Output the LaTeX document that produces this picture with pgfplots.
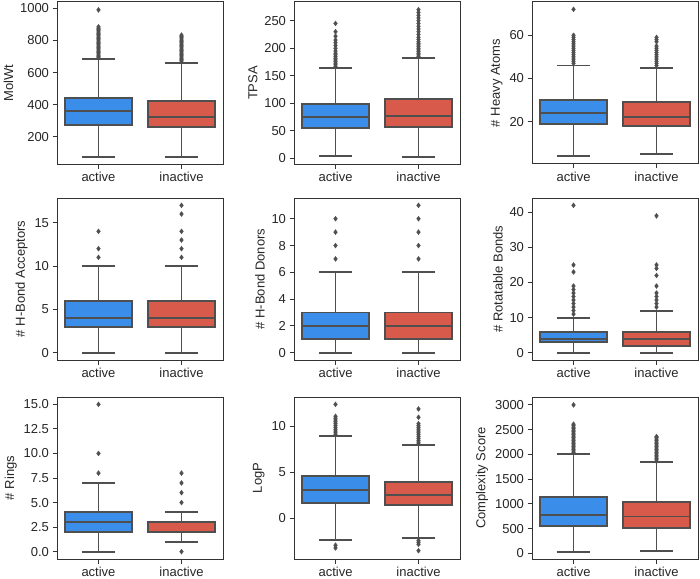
\documentclass[border=0pt]{standalone}
\usepackage{fontspec}
\setmainfont{Liberation Sans}
\usepackage{pgfplots}
\pgfplotsset{compat=1.18}
\usepgfplotslibrary{statistics}

\definecolor{cact}{HTML}{3A8EEA}
\definecolor{cina}{HTML}{D85A4B}
\definecolor{edge}{HTML}{4F4F4F}
\definecolor{frame}{HTML}{333333}

\pgfplotsset{
  panel/.style={
    width=166pt, height=162pt, scale only axis,
    xmin=-0.5, xmax=1.5, xtick={0,1}, xticklabels={active,inactive},
    tick align=outside, major tick length=4.5pt,
    xtick pos=bottom, ytick pos=left,
    axis line style={draw=frame, line width=1pt},
    tick style={draw=frame, line width=1pt},
    ticklabel style={font=\fontsize{13}{15}\selectfont, text=black!85},
    label style={font=\fontsize{13}{15}\selectfont, text=black!85},
    /pgf/number format/assume math mode=true,
    /pgf/number format/1000 sep={},
    boxplot/draw direction=y,
    boxplot/box extend=0.8,
    boxplot/whisker extend=0.4,
    boxplot/every whisker/.style={draw=edge, line width=1.9pt},
    boxplot/every median/.style={draw=edge, line width=1.9pt},
    boxplot/every box/.style={draw=edge, line width=1.9pt},
  },
  bxa/.style={draw=edge, line width=1.9pt, fill=cact,
    mark=diamond*, mark size=2.5pt, mark options={fill=edge, draw=edge, line width=0.3pt}},
  bxi/.style={draw=edge, line width=1.9pt, fill=cina,
    mark=diamond*, mark size=2.5pt, mark options={fill=edge, draw=edge, line width=0.3pt}},
}

\begin{document}
\begin{tikzpicture}
\path[use as bounding box] (0pt,0pt) rectangle (700pt,-578pt);

% row 1
\begin{axis}[panel, at={(57pt,-2pt)}, anchor=north west,
  ylabel={MolWt}, ymin=31, ymax=1039, ytick={200,400,600,800,1000}]
\addplot[bxa, boxplot prepared={draw position=0, lower whisker=76, lower quartile=274,
  median=359, upper quartile=439, upper whisker=687}]
  table[row sep=\\, y index=0] {692\\700\\708\\716\\724\\732\\740\\748\\756\\764\\772\\780\\788\\796\\804\\812\\820\\828\\836\\844\\852\\860\\868\\876\\884\\990\\};
\addplot[bxi, boxplot prepared={draw position=1, lower whisker=73, lower quartile=262,
  median=326, upper quartile=425, upper whisker=660}]
  table[row sep=\\, y index=0] {665\\673\\681\\689\\697\\705\\713\\721\\729\\737\\745\\753\\761\\769\\777\\785\\793\\801\\809\\817\\825\\833\\};
\end{axis}

\begin{axis}[panel, at={(294pt,-2pt)}, anchor=north west,
  ylabel={TPSA}, ymin=-10, ymax=284, ytick={0,50,100,150,200,250}]
\addplot[bxa, boxplot prepared={draw position=0, lower whisker=4, lower quartile=55,
  median=75, upper quartile=99, upper whisker=165}]
  table[row sep=\\, y index=0] {167\\170\\173\\176\\179\\182\\185\\188\\191\\195\\200\\205\\210\\215\\222\\230\\245\\};
\addplot[bxi, boxplot prepared={draw position=1, lower whisker=3, lower quartile=57,
  median=77, upper quartile=108, upper whisker=183}]
  table[row sep=\\, y index=0] {185\\188\\191\\194\\197\\200\\203\\206\\209\\212\\216\\220\\225\\230\\235\\240\\245\\250\\255\\260\\265\\270\\};
\end{axis}

\begin{axis}[panel, at={(532pt,-2pt)}, anchor=north west,
  ylabel={\# Heavy Atoms}, ymin=0.4, ymax=75.4, ytick={20,40,60}]
\addplot[bxa, boxplot prepared={draw position=0, lower whisker=4, lower quartile=19,
  median=24, upper quartile=30, upper whisker=46}]
  table[row sep=\\, y index=0] {47\\48\\49\\50\\51\\52\\53\\54\\55\\56\\57\\58\\59\\60\\72\\};
\addplot[bxi, boxplot prepared={draw position=1, lower whisker=5, lower quartile=18,
  median=22, upper quartile=29, upper whisker=45}]
  table[row sep=\\, y index=0] {46\\47\\48\\49\\50\\51\\52\\53\\54\\55\\57\\58\\59\\};
\end{axis}

% row 2
\begin{axis}[panel, at={(57pt,-198pt)}, anchor=north west,
  ylabel={\# H-Bond Acceptors}, ymin=-0.85, ymax=17.85, ytick={0,5,10,15}]
\addplot[bxa, boxplot prepared={draw position=0, lower whisker=0, lower quartile=3,
  median=4, upper quartile=6, upper whisker=10}]
  table[row sep=\\, y index=0] {11\\12\\14\\};
\addplot[bxi, boxplot prepared={draw position=1, lower whisker=0, lower quartile=3,
  median=4, upper quartile=6, upper whisker=10}]
  table[row sep=\\, y index=0] {11\\12\\13\\14\\16\\17\\};
\end{axis}

\begin{axis}[panel, at={(294pt,-198pt)}, anchor=north west,
  ylabel={\# H-Bond Donors}, ymin=-0.55, ymax=11.55, ytick={0,2,4,6,8,10}]
\addplot[bxa, boxplot prepared={draw position=0, lower whisker=0, lower quartile=1,
  median=2, upper quartile=3, upper whisker=6}]
  table[row sep=\\, y index=0] {7\\8\\9\\10\\};
\addplot[bxi, boxplot prepared={draw position=1, lower whisker=0, lower quartile=1,
  median=2, upper quartile=3, upper whisker=6}]
  table[row sep=\\, y index=0] {7\\8\\9\\10\\11\\};
\end{axis}

\begin{axis}[panel, at={(532pt,-198pt)}, anchor=north west,
  ylabel={\# Rotatable Bonds}, ymin=-2.1, ymax=44.1, ytick={0,10,20,30,40}]
\addplot[bxa, boxplot prepared={draw position=0, lower whisker=0, lower quartile=3,
  median=4, upper quartile=6, upper whisker=10}]
  table[row sep=\\, y index=0] {11\\12\\13\\14\\15\\16\\17\\18\\19\\23\\25\\42\\};
\addplot[bxi, boxplot prepared={draw position=1, lower whisker=0, lower quartile=2,
  median=4, upper quartile=6, upper whisker=12}]
  table[row sep=\\, y index=0] {13\\14\\15\\16\\17\\19\\22\\24\\25\\39\\};
\end{axis}

% row 3
\begin{axis}[panel, at={(57pt,-397pt)}, anchor=north west,
  ylabel={\# Rings}, ymin=-0.75, ymax=15.75, ytick={0,2.5,5,7.5,10,12.5,15},
  yticklabel style={/pgf/number format/.cd, fixed, fixed zerofill, precision=1}]
\addplot[bxa, boxplot prepared={draw position=0, lower whisker=0, lower quartile=2,
  median=3, upper quartile=4, upper whisker=7}]
  table[row sep=\\, y index=0] {8\\10\\15\\};
\addplot[bxi, boxplot prepared={draw position=1, lower whisker=1, lower quartile=2,
  median=2, upper quartile=3, upper whisker=4}]
  table[row sep=\\, y index=0] {0\\5\\6\\7\\8\\};
\end{axis}

\begin{axis}[panel, at={(294pt,-397pt)}, anchor=north west,
  ylabel={LogP}, ymin=-4.4, ymax=13.2, ytick={0,5,10}]
\addplot[bxa, boxplot prepared={draw position=0, lower whisker=-2.38, lower quartile=1.73,
  median=3.07, upper quartile=4.58, upper whisker=8.96}]
  table[row sep=\\, y index=0] {9.1\\9.3\\9.5\\9.7\\9.9\\10.1\\10.3\\10.5\\10.7\\10.9\\11.1\\12.4\\-2.9\\-3.2\\};
\addplot[bxi, boxplot prepared={draw position=1, lower whisker=-2.13, lower quartile=1.44,
  median=2.6, upper quartile=4.0, upper whisker=7.94}]
  table[row sep=\\, y index=0] {8.1\\8.3\\8.5\\8.7\\8.9\\9.1\\9.3\\9.5\\9.7\\9.9\\10.1\\10.3\\11.0\\11.9\\-2.4\\-2.6\\-2.8\\-3.5\\};
\end{axis}

\begin{axis}[panel, at={(532pt,-397pt)}, anchor=north west,
  ylabel={Complexity Score}, ymin=-115, ymax=3160, ytick={0,500,1000,1500,2000,2500,3000},
  scaled y ticks=false]
\addplot[bxa, boxplot prepared={draw position=0, lower whisker=32, lower quartile=544,
  median=777, upper quartile=1135, upper whisker=2010}]
  table[row sep=\\, y index=0] {2040\\2070\\2100\\2130\\2160\\2190\\2220\\2250\\2280\\2310\\2340\\2370\\2400\\2430\\2460\\2490\\2520\\2550\\2580\\2610\\3000\\};
\addplot[bxi, boxplot prepared={draw position=1, lower whisker=46, lower quartile=509,
  median=745, upper quartile=1040, upper whisker=1838}]
  table[row sep=\\, y index=0] {1860\\1890\\1920\\1950\\1980\\2010\\2040\\2070\\2100\\2130\\2160\\2190\\2220\\2250\\2280\\2310\\2340\\2360\\};
\end{axis}

\end{tikzpicture}
\end{document}
